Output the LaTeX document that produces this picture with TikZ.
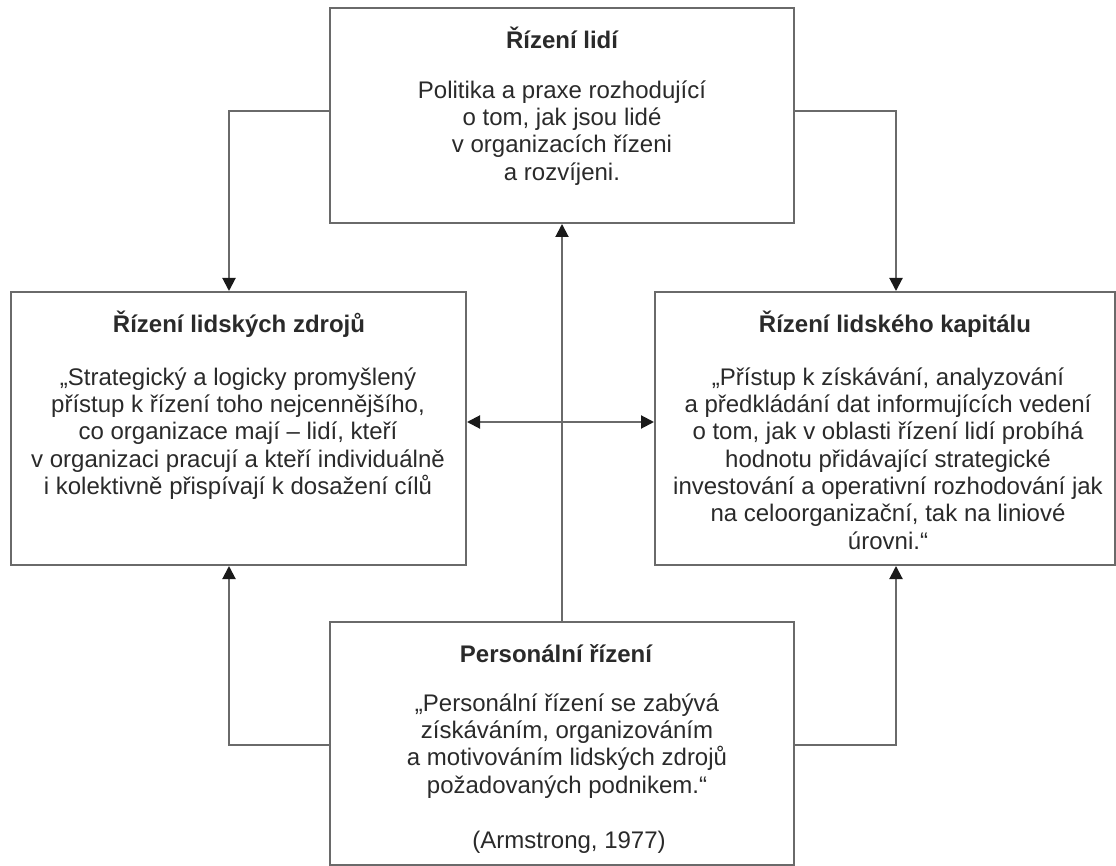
\documentclass[tikz,border=0pt]{standalone}
\usepackage{fontspec}
\setmainfont{Liberation Sans}
\usetikzlibrary{arrows.meta}
\definecolor{linegray}{HTML}{6A6A6A}
\definecolor{txtgray}{HTML}{2A2A2A}
\definecolor{tipgray}{HTML}{1A1A1A}
\begin{document}
\begin{tikzpicture}[x=1pt,y=-1pt,
  box/.style={draw=linegray, line width=2pt, rectangle, inner sep=0pt, fill=white},
  ttl/.style={anchor=base, inner sep=0pt, text=txtgray, font=\fontsize{24}{27.3}\selectfont\bfseries},
  bodytxt/.style={anchor=north, inner sep=0pt, align=center, text=txtgray, font=\fontsize{24}{27.3}\selectfont},
  conn/.style={draw=linegray, line width=2pt},
  tip/.tip={Triangle[width=13pt,length=13pt,color=tipgray]},
  arr/.style={conn, -tip},
  darr/.style={conn, tip-tip}]
\fill[white] (0,0) rectangle (1116,866);
\useasboundingbox (0,0) rectangle (1116,866);

% boxes
\node[box, minimum width=464pt, minimum height=215pt] (T) at (562,115.5) {};
\node[box, minimum width=455pt, minimum height=273pt] (L) at (238.5,428.5) {};
\node[box, minimum width=460pt, minimum height=273pt] (R) at (885,428.5) {};
\node[box, minimum width=464pt, minimum height=243pt] (B) at (562,743.5) {};

% top box text
\node[ttl] (Tt) at (562,49) {Řízení lidí};
\node[bodytxt] (Tb) at (562,74) {\rule{0pt}{24pt}Politika a praxe rozhodující\\o tom, jak jsou lidé\\v organizacích řízeni\\a rozvíjeni.};

% left box text
\node[ttl] (Lt) at (239,333) {Řízení lidských zdrojů};
\node[bodytxt] (Lb) at (238,361) {\rule{0pt}{24pt}„Strategický a logicky promyšlený\\přístup k řízení toho nejcennějšího,\\co organizace mají – lidí, kteří\\v organizaci pracují a kteří individuálně\\i kolektivně přispívají k dosažení cílů};

% right box text
\node[ttl] (Rt) at (895,333) {Řízení lidského kapitálu};
\node[bodytxt] (Rb) at (888,361) {\rule{0pt}{24pt}„Přístup k získávání, analyzování\\a předkládání dat informujících vedení\\o tom, jak v oblasti řízení lidí probíhá\\hodnotu přidávající strategické\\investování a operativní rozhodování jak\\na celoorganizační, tak na liniové\\úrovni.“};

% bottom box text
\node[ttl] (Bt) at (556,662) {Personální řízení};
\node[bodytxt] (Bb) at (567,687) {\rule{0pt}{24pt}„Personální řízení se zabývá\\získáváním, organizováním\\a motivováním lidských zdrojů\\požadovaných podnikem.“};
\node[ttl, font=\fontsize{24}{27.3}\selectfont] (Ba) at (569,848) {(Armstrong, 1977)};

% connectors
\draw[arr] ([yshift=4.5pt]T.west) -| ([xshift=-9.5pt]L.north);
\draw[arr] ([yshift=4.5pt]T.east) -| ([xshift=11pt]R.north);
\draw[arr] (B.north) -- (T.south);
\draw[darr] ([yshift=6.5pt]L.east) -- ([yshift=6.5pt]R.west);
\draw[arr] ([yshift=-1.5pt]B.west) -| ([xshift=-9.5pt]L.south);
\draw[arr] ([yshift=-1.5pt]B.east) -| ([xshift=11pt]R.south);
\end{tikzpicture}
\end{document}
